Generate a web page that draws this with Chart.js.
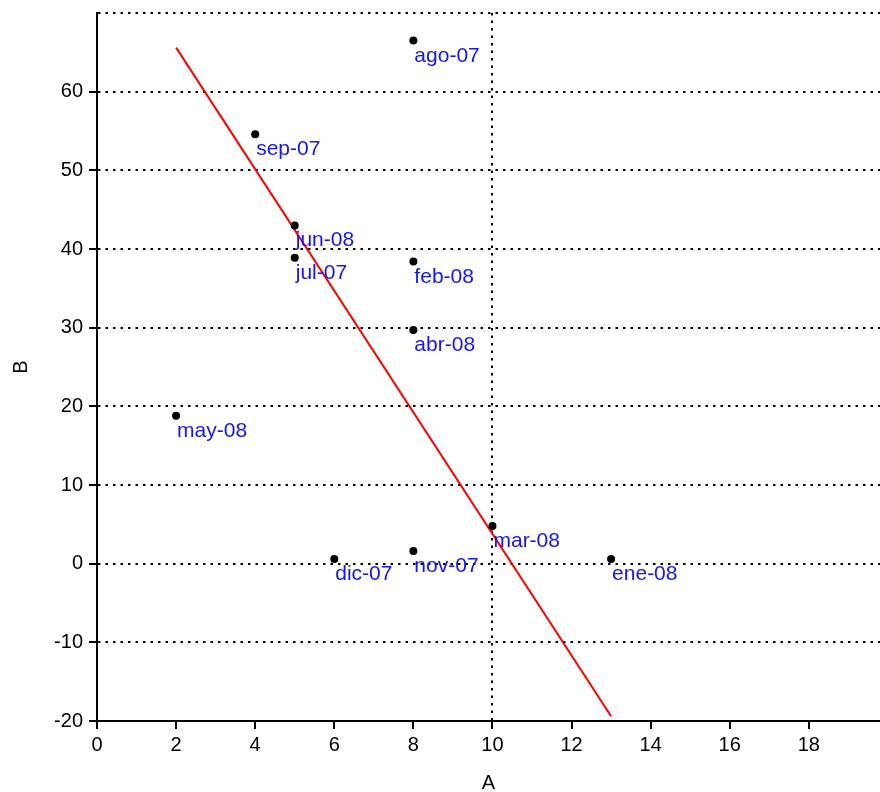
<!DOCTYPE html>
<html>
<head>
<meta charset="utf-8">
<script src="https://cdn.jsdelivr.net/npm/chart.js@4/dist/chart.umd.min.js"></script>
<style>
  html, body { margin: 0; padding: 0; background: #fff; }
  #wrap { width: 880px; height: 792px; }
</style>
</head>
<body>
<div id="wrap"><canvas id="scatterChart" width="880" height="792"></canvas></div>
<script>
// data
var months = ['ago-07', 'sep-07', 'jun-08', 'jul-07', 'feb-08', 'abr-08', 'may-08', 'mar-08', 'dic-07', 'nov-07', 'ene-08'];
var valuesA = [8, 4, 5, 5, 8, 8, 2, 10, 6, 8, 13];
var valuesB = [66.5, 54.6, 43, 38.9, 38.4, 29.7, 18.8, 4.8, 0.6, 1.6, 0.6];

// fitted line end points
var lineA = [2, 13];
var lineB = [65.6, -19.4];

var xTicks = [0, 2, 4, 6, 8, 10, 12, 14, 16, 18];
var yTicks = [-20, -10, 0, 10, 20, 30, 40, 50, 60, 70];

var FONT = 'Liberation Sans, Arial, sans-serif';

document.addEventListener("DOMContentLoaded", function() {
    var points = months.map(function(m, i) { return { x: valuesA[i], y: valuesB[i] }; });
    var line = lineA.map(function(a, i) { return { x: a, y: lineB[i] }; });

    // month names next to each point
    var pointLabels = {
        id: 'pointLabels',
        afterDatasetsDraw: function(chart) {
            var ctx = chart.ctx;
            var meta = chart.getDatasetMeta(0);
            ctx.save();
            ctx.font = '21px ' + FONT;
            ctx.fillStyle = 'rgb(20,20,255)';
            ctx.textAlign = 'left';
            ctx.textBaseline = 'alphabetic';
            meta.data.forEach(function(el, i) {
                ctx.fillText(months[i], el.x + 1, el.y + 21);
            });
            ctx.restore();
        }
    };

    var ctx = document.getElementById('scatterChart').getContext('2d');
    var chart = new Chart(ctx, {
        type: 'scatter',
        data: {
            datasets: [
                {
                    label: 'B',
                    data: points,
                    backgroundColor: '#000',
                    borderWidth: 0,
                    pointRadius: 4
                },
                {
                    label: 'fit',
                    type: 'line',
                    data: line,
                    borderColor: '#ff0000',
                    borderWidth: 2,
                    pointRadius: 0,
                    fill: false
                }
            ]
        },
        options: {
            responsive: false,
            animation: false,
            layout: { autoPadding: false, padding: { top: 13, right: 0, left: 0, bottom: 0 } },
            plugins: {
                legend: { display: false },
                tooltip: { enabled: false }
            },
            scales: {
                x: {
                    type: 'linear',
                    min: 0,
                    max: 19.8,
                    afterBuildTicks: function(s) { s.ticks = xTicks.map(function(v) { return { value: v }; }); },
                    afterFit: function(s) { s.height = 71; s.paddingLeft = 0; s.paddingRight = 0; },
                    ticks: { color: '#000', font: { family: FONT, size: 20 }, padding: 4, maxRotation: 0 },
                    grid: {
                        color: function(c) { return c.tick && c.tick.value === 10 ? '#000' : 'rgba(0,0,0,0)'; },
                        lineWidth: 2,
                        tickColor: '#000',
                        tickLength: 8,
                        tickWidth: 2
                    },
                    border: { display: true, color: '#000', width: 2, dash: [2.5, 5] },
                    title: { display: true, text: 'A', color: '#000', font: { family: FONT, size: 20, lineHeight: 0.9 }, padding: { top: 0, bottom: 0 } }
                },
                y: {
                    type: 'linear',
                    min: -20,
                    max: 70,
                    afterBuildTicks: function(s) { s.ticks = yTicks.map(function(v) { return { value: v }; }); },
                    afterFit: function(s) { s.width = 97; s.paddingTop = 0; s.paddingBottom = 0; },
                    ticks: {
                        color: '#000',
                        font: { family: FONT, size: 20 },
                        padding: 6,
                        callback: function(v) { return v === 70 ? '' : v; }
                    },
                    grid: {
                        color: '#000',
                        lineWidth: 2,
                        tickColor: function(c) { return c.tick && c.tick.value === 70 ? 'rgba(0,0,0,0)' : '#000'; },
                        tickLength: 8,
                        tickWidth: 2
                    },
                    border: { display: true, color: '#000', width: 2, dash: [2.5, 5] },
                    title: { display: true, text: 'B', color: '#000', font: { family: FONT, size: 20 }, padding: { top: 9, bottom: 0 } }
                }
            }
        },
        plugins: [pointLabels]
    });
});
</script>
</body>
</html>
